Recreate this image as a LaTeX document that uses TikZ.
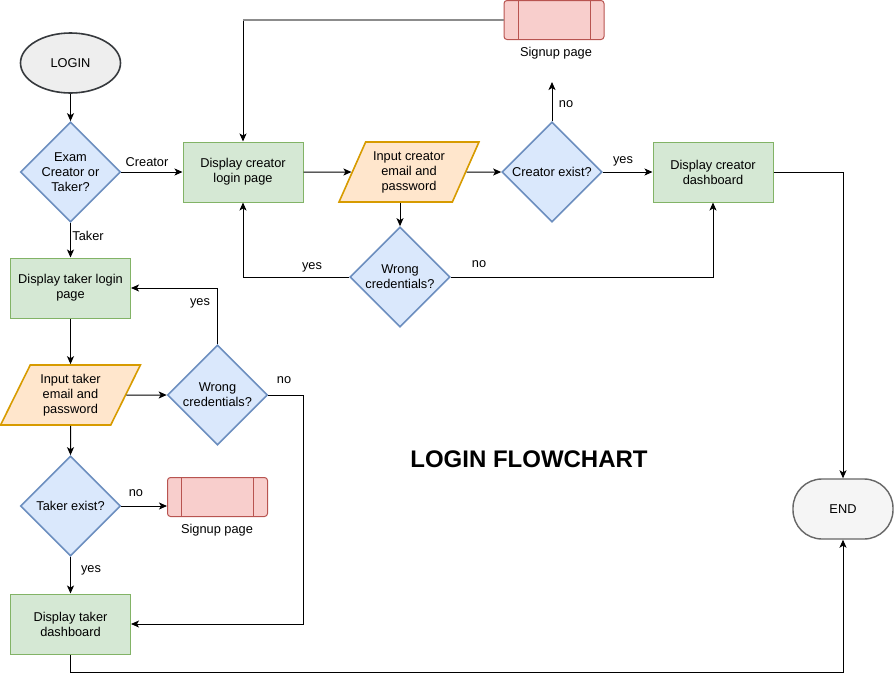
\documentclass[tikz,border=0pt]{standalone}
\usepackage{fontspec}
\setmainfont{Liberation Sans}
\usetikzlibrary{shapes.geometric,arrows.meta}
\definecolor{gF}{HTML}{D5E8D4}\definecolor{gS}{HTML}{82B366}
\definecolor{bF}{HTML}{DAE8FC}\definecolor{bS}{HTML}{6C8EBF}
\definecolor{oF}{HTML}{FFE6CC}\definecolor{oS}{HTML}{D79B00}
\definecolor{rF}{HTML}{F8CECC}\definecolor{rS}{HTML}{B85450}
\definecolor{lgF}{HTML}{EEEEEE}\definecolor{lgS}{HTML}{36393D}
\definecolor{eF}{HTML}{F5F5F5}\definecolor{eS}{HTML}{666666}
\begin{document}
\begin{tikzpicture}[x=1pt,y=-1pt,
  font=\fontsize{12.8}{15}\selectfont,
  proc/.style={draw=gS,fill=gF,line width=1pt,minimum width=120pt,minimum height=60pt,inner sep=0pt,align=center},
  dec/.style={diamond,draw=bS,fill=bF,line width=1.6pt,minimum width=100pt,minimum height=100pt,inner sep=-9pt,align=center},
  io/.style={trapezium,trapezium left angle=62,trapezium right angle=118,trapezium stretches=true,draw=oS,fill=oF,line width=1.6pt,minimum width=140pt,minimum height=60pt,inner sep=0pt,align=center},
  subr/.style={draw=rS,fill=rF,line width=1pt,rounded corners=3pt,minimum width=100pt,minimum height=39pt,inner sep=0pt,
    path picture={\draw[rS,line width=1pt] ([xshift=14pt]path picture bounding box.north west) -- ([xshift=14pt]path picture bounding box.south west);
      \draw[rS,line width=1pt] ([xshift=-14pt]path picture bounding box.north east) -- ([xshift=-14pt]path picture bounding box.south east);}},
  lbl/.style={fill=white,inner sep=1pt},
  arr/.style={line width=1pt,-{Stealth[length=8pt,width=7pt,inset=2pt]}}
]
\useasboundingbox (0,0) rectangle (894,683);

% nodes
\node[ellipse,draw=lgS,fill=lgF,line width=1.6pt,minimum width=100pt,minimum height=60pt,inner sep=0pt] (login) at (70.5,63) {LOGIN};
\node[dec] (q1) at (70.5,172) {Exam\\Creator or\\Taker?};
\node[proc] (dcl) at (243,172) {Display creator\\login page};
\node[io] (icr) at (409,172) {Input creator\\email and\\password};
\node[dec] (cex) at (552,172) {Creator exist?};
\node[proc] (dcd) at (713,172) {Display creator\\dashboard};
\node[dec] (wc1) at (400,277) {Wrong\\credentials?};
\node[subr] (sp1) at (554,20) {};
\node[lbl] (sp1l) at (556,53) {Signup page};
\node[proc] (dtl) at (70.5,288) {Display taker login\\page};
\node[io] (itk) at (70.5,395) {Input taker\\email and\\password};
\node[dec] (wc2) at (217.5,395) {Wrong\\credentials?};
\node[dec] (tex) at (70.5,506) {Taker exist?};
\node[subr] (sp2) at (217.5,497) {};
\node[lbl] (sp2l) at (217,530) {Signup page};
\node[proc] (dtd) at (70.5,624) {Display taker\\dashboard};
\node[draw=eS,fill=eF,line width=1.4pt,rounded corners=29pt,minimum width=100pt,minimum height=60pt,inner sep=0pt] (endn) at (843,509) {END};
\node[font=\fontsize{24}{28}\selectfont\bfseries] (title) at (529,459) {LOGIN FLOWCHART};

% connectors
\coordinate (cexno) at (552,82);
\draw[arr] (login) -- (q1);
\draw[arr] (q1) -- (dcl);
\node[lbl] (lcreator) at (147,162) {Creator};
\draw[arr] (q1) -- (dtl);
\node[lbl] (ltaker) at (88,236) {Taker};
\draw[arr] (dcl) -- (icr);
\draw[arr] (icr) -- (cex);
\draw[arr] (cex) -- (dcd);
\node[lbl] (lyes1) at (623,161) {yes};
\draw[arr] (cex.north) -- (cexno);
\node[lbl] (lno1) at (566,104) {no};
\draw[arr] (wc1.north |- icr.south) -- (wc1.north);
\draw[arr] (wc1.west) -| (dcl.south);
\node[lbl] (lyes2) at (312,267) {yes};
\draw[arr] (wc1.east) -| (dcd.south);
\node[lbl] (lno2) at (479,264) {no};
\draw[arr] (dcd.east) -| (endn.north);
\draw[arr] (sp1.west) -| (dcl.north);
\draw[line width=1.4pt,color=gray!90] (sp1.west) -- (sp1.west -| dcl.north);
\draw[arr] (dtl) -- (itk);
\draw[arr] (itk) -- (wc2);
\draw[arr] (wc2.north) |- (dtl.east);
\node[lbl] (lyes3) at (200,303) {yes};
\draw[arr] (wc2.east) -- ++(35,0) |- (dtd.east);
\node[lbl] (lno3) at (284,380) {no};
\draw[arr] (itk) -- (tex);
\draw[arr] (tex.east) -- (sp2.west |- tex.east);
\node[lbl] (lno4) at (136,493) {no};
\draw[arr] (tex) -- (dtd);
\node[lbl] (lyes4) at (91,570) {yes};
\draw[arr] (dtd.south) -- ++(0,18) -| (endn.south);
\end{tikzpicture}
\end{document}
